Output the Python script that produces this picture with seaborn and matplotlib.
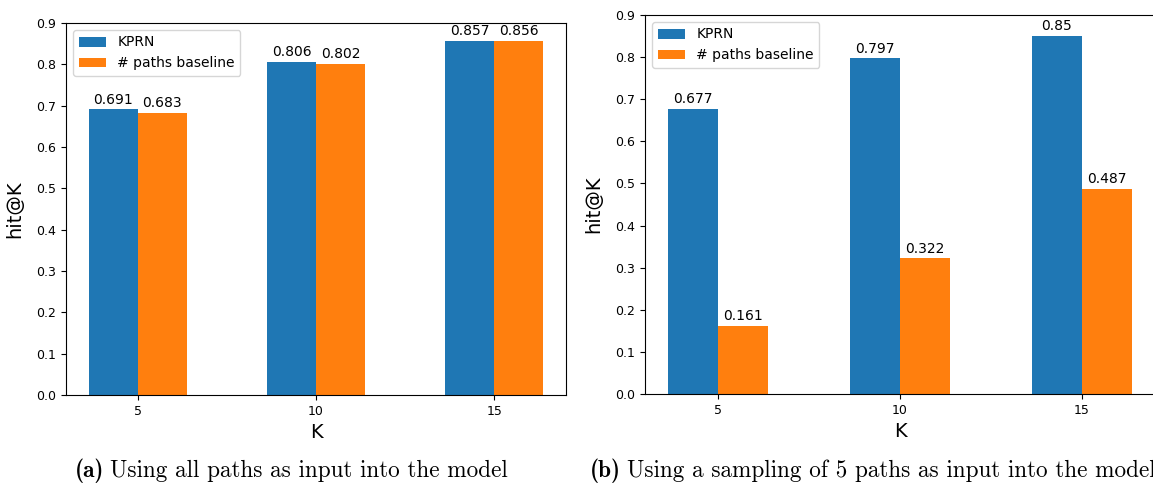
import matplotlib
matplotlib.use("Agg")
import matplotlib.pyplot as plt
import seaborn as sns
import pandas as pd

# ---- data ----
k_values = ["5", "10", "15"]
series_names = ["KPRN", "# paths baseline"]
a_kprn = [0.691, 0.806, 0.857]
a_base = [0.683, 0.802, 0.856]
b_kprn = [0.677, 0.797, 0.85]
b_base = [0.161, 0.322, 0.487]
y_ticks = [0.0, 0.1, 0.2, 0.3, 0.4, 0.5, 0.6, 0.7, 0.8, 0.9]
caption_a = ("(a)", "Using all paths as input into the model")
caption_b = ("(b)", "Using a sampling of 5 paths as input into the model")

plt.rcParams["font.family"] = ["DejaVu Sans"]

colors = ["#1f77b4", "#ff7f0e"]

fig = plt.figure(figsize=(11.53, 4.87), dpi=100)
W, H = 1153, 487
ax_a = fig.add_axes([66 / W, (H - 395) / H, 500 / W, (395 - 23) / H])
ax_b = fig.add_axes([645 / W, (H - 394) / H, 510 / W, (394 - 15) / H])


def make_df(kprn, base):
    rows = []
    for k, v in zip(k_values, kprn):
        rows.append({"K": k, "model": series_names[0], "value": v})
    for k, v in zip(k_values, base):
        rows.append({"K": k, "model": series_names[1], "value": v})
    return pd.DataFrame(rows)


def draw(ax, kprn, base):
    df = make_df(kprn, base)
    sns.barplot(data=df, x="K", y="value", hue="model", order=k_values,
                hue_order=series_names, palette=colors, saturation=1,
                width=0.55, linewidth=0, errorbar=None, ax=ax)
    for cont, vals in zip(ax.containers, [kprn, base]):
        ax.bar_label(cont, labels=[str(v) for v in vals], padding=2, fontsize=10)
    ax.set_ylim(0, 0.9)
    ax.set_yticks(y_ticks)
    ax.set_yticklabels([f"{t:.1f}" for t in y_ticks])
    ax.set_xlim(-0.4025, 2.4025)
    ax.tick_params(labelsize=9)
    ax.set_xlabel("K", fontsize=14)
    ax.set_ylabel("hit@K", fontsize=14, labelpad=8.5)
    handles, labels = ax.get_legend_handles_labels()
    if ax.get_legend() is not None:
        ax.get_legend().remove()
    ax.legend(handles, labels, loc="upper left", fontsize=10)


draw(ax_a, a_kprn, a_base)
draw(ax_b, b_kprn, b_base)

fig.canvas.draw()
renderer = fig.canvas.get_renderer()
CAP_SIZE = 16.7
GAP = 6  # pixels between bold label and text


def caption(center_x, y, parts):
    bold = fig.text(0, y, parts[0], family="cmb10", fontsize=CAP_SIZE,
                    ha="left", va="center_baseline")
    rest = fig.text(0, y, parts[1], family="cmr10", fontsize=CAP_SIZE,
                    ha="left", va="center_baseline")
    wb = bold.get_window_extent(renderer).width
    wr = rest.get_window_extent(renderer).width
    total = wb + GAP + wr
    left = center_x - total / 2
    bold.set_x(left / W)
    rest.set_x((left + wb + GAP) / W)


caption(291, 1 - 468 / H, caption_a)
caption(872.5, 1 - 468 / H, caption_b)

fig.savefig("out.png", dpi=100)
